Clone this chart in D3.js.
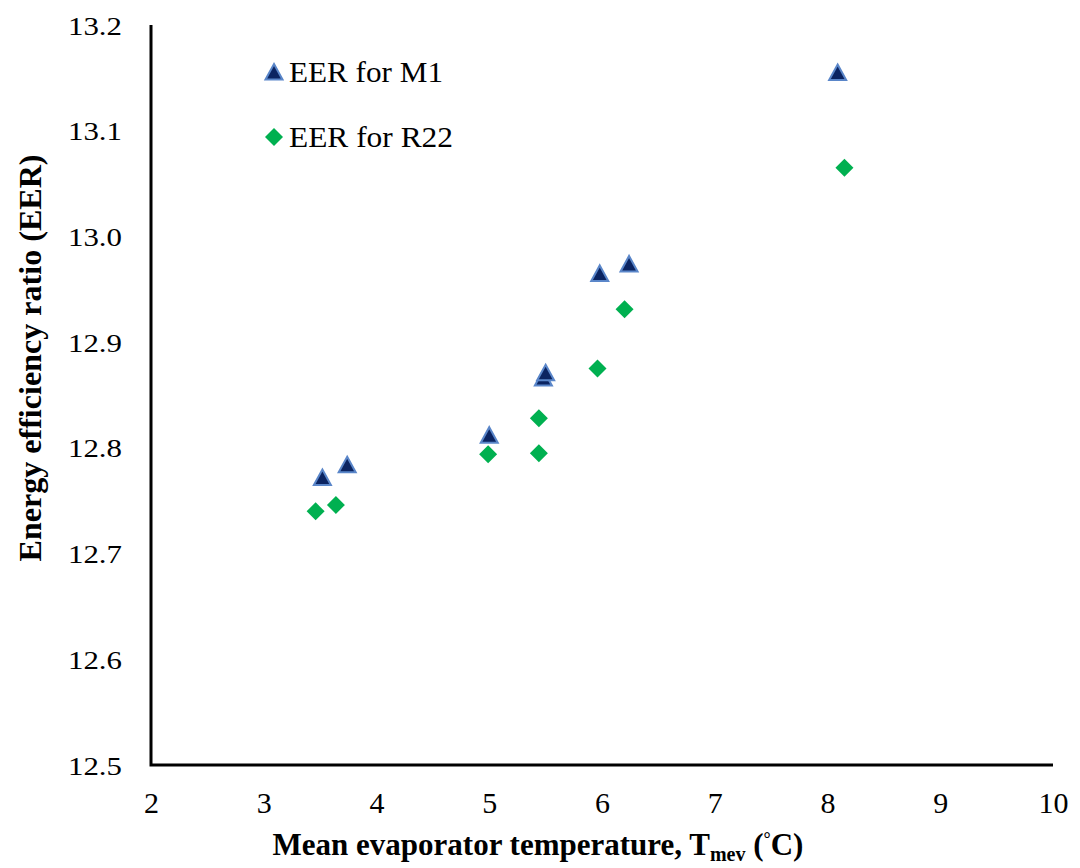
<!DOCTYPE html>
<html>
<head>
<meta charset="utf-8">
<script src="https://cdn.jsdelivr.net/npm/d3@7"></script>
<style>
  html, body { margin: 0; padding: 0; background: #fff; }
  svg { display: block; }
  text { font-family: "Liberation Serif", "Times New Roman", serif; fill: #000; }
</style>
</head>
<body>
<svg id="chart" width="1080" height="868"></svg>
<script>
// Mean evaporator temperature (°C) and EER for each refrigerant
const m1Temp = [3.52, 3.74, 5.00, 5.48, 5.50, 5.98, 6.24, 8.09];
const m1EER  = [12.772, 12.784, 12.812, 12.866, 12.871, 12.965, 12.974, 13.155];
const r22Temp = [3.46, 3.64, 4.99, 5.44, 5.44, 5.96, 6.20, 8.15];
const r22EER  = [12.740, 12.746, 12.794, 12.795, 12.828, 12.875, 12.931, 13.065];

const xTicks = [2, 3, 4, 5, 6, 7, 8, 9, 10];
const yTicks = [12.5, 12.6, 12.7, 12.8, 12.9, 13.0, 13.1, 13.2];
const legendLabels = ["EER for M1", "EER for R22"];

const svg = d3.select("#chart");
const plot = { left: 151, right: 1053, top: 25, bottom: 765 };

const x = d3.scaleLinear().domain([2, 10]).range([plot.left, plot.right]);
const y = d3.scaleLinear().domain([12.5, 13.2]).range([plot.bottom, plot.top]);

// Axes (no tick marks, labels only)
const xAxis = d3.axisBottom(x).tickValues(xTicks).tickSize(0).tickPadding(0)
  .tickFormat(d3.format("d"));
const yAxis = d3.axisLeft(y).tickValues(yTicks).tickSize(0).tickPadding(0)
  .tickFormat(d3.format(".1f"));

const gx = svg.append("g").attr("transform", `translate(0,${plot.bottom})`).call(xAxis);
gx.select(".domain").remove();
gx.selectAll("text")
  .attr("y", 48).attr("dy", null)
  .style("font-size", "30px")
  .style("font-family", '"Liberation Serif", serif');

const gy = svg.append("g").attr("transform", `translate(${plot.left},0)`).call(yAxis);
gy.select(".domain").remove();
gy.selectAll("text")
  .attr("x", -29).attr("dy", "0.35em")
  .attr("text-anchor", "end")
  .attr("textLength", 54).attr("lengthAdjust", "spacingAndGlyphs")
  .style("font-size", "26px")
  .style("font-family", '"Liberation Serif", serif');

// Axis lines
svg.append("path")
  .attr("d", `M${plot.left},${plot.top} V${plot.bottom} H${plot.right}`)
  .attr("fill", "none").attr("stroke", "#000").attr("stroke-width", 3)
  .attr("stroke-linejoin", "miter");

// Marker shapes
const triPath = (cx, cy) => `M${cx},${cy - 8} L${cx + 8.5},${cy + 7.5} L${cx - 8.5},${cy + 7.5} Z`;
const diaPath = (cx, cy) => `M${cx},${cy - 9} L${cx + 9},${cy} L${cx},${cy + 9} L${cx - 9},${cy} Z`;

const r22 = r22Temp.map((t, i) => ({ t, v: r22EER[i] }));
const m1 = m1Temp.map((t, i) => ({ t, v: m1EER[i] }));

svg.append("g").selectAll("path").data(r22).join("path")
  .attr("d", d => diaPath(x(d.t), y(d.v)))
  .attr("fill", "#00b050");

svg.append("g").selectAll("path").data(m1).join("path")
  .attr("d", d => triPath(x(d.t), y(d.v)))
  .attr("fill", "#0b2461").attr("stroke", "#5a86c9").attr("stroke-width", 2)
  .attr("stroke-linejoin", "miter");

// Legend
const legend = svg.append("g");
legend.append("path").attr("d", triPath(274, 72))
  .attr("fill", "#0b2461").attr("stroke", "#5a86c9").attr("stroke-width", 2);
legend.append("path").attr("d", diaPath(274, 137)).attr("fill", "#00b050");
legend.selectAll("text").data(legendLabels).join("text")
  .attr("x", 289)
  .attr("y", (d, i) => i === 0 ? 72 : 137)
  .attr("dy", "0.35em")
  .attr("textLength", (d, i) => i === 0 ? 154 : 164)
  .attr("lengthAdjust", "spacingAndGlyphs")
  .style("font-size", "29px")
  .text(d => d);

// Axis titles
const xt = svg.append("text")
  .attr("x", 538).attr("y", 855)
  .attr("text-anchor", "middle")
  .style("font-size", "31px").style("font-weight", "bold");
xt.append("tspan").text("Mean evaporator temperature, T");
xt.append("tspan").attr("dy", 6).style("font-size", "20px").text("mev");
xt.append("tspan").attr("dy", -6).text(" (");
xt.append("tspan").attr("dy", -10).style("font-size", "18px").text("°");
xt.append("tspan").attr("dy", 10).text("C)");

svg.append("text")
  .attr("transform", "translate(41,358) rotate(-90)")
  .attr("text-anchor", "middle")
  .attr("textLength", 407).attr("lengthAdjust", "spacingAndGlyphs")
  .style("font-size", "31px").style("font-weight", "bold")
  .text("Energy efficiency ratio (EER)");
</script>
</body>
</html>
